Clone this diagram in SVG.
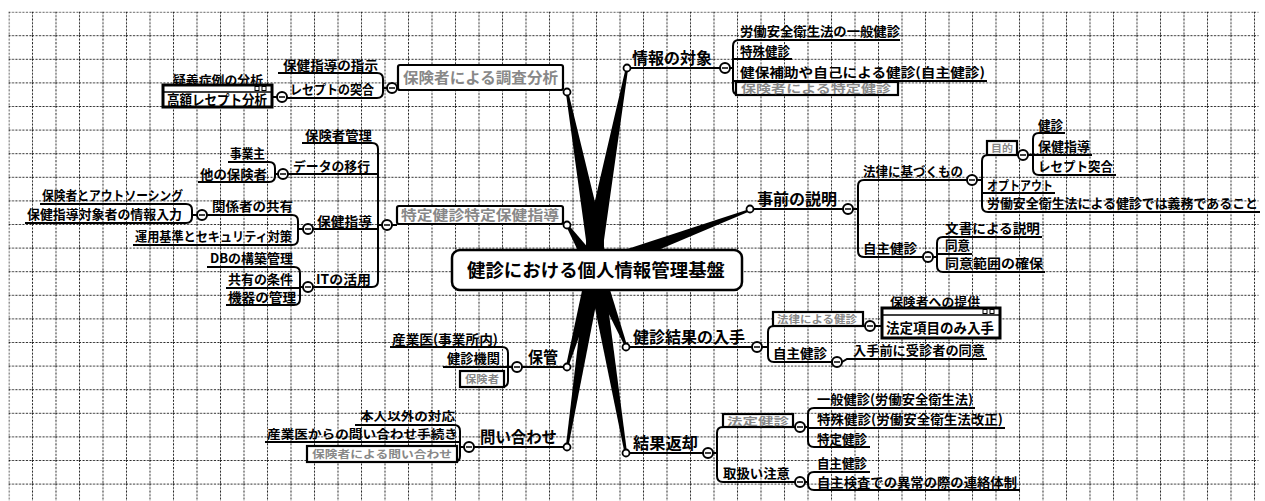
<svg xmlns="http://www.w3.org/2000/svg" width="1265" height="501" viewBox="0 0 1265 501">
<defs>
<pattern id="grid" patternUnits="userSpaceOnUse" x="8.5" y="11.6" width="23.5" height="23.6">
<line x1="0.5" y1="0" x2="0.5" y2="23.6" stroke="#222" stroke-width="1" stroke-dasharray="2 1.5"/>
<line x1="0" y1="0.5" x2="23.5" y2="0.5" stroke="#222" stroke-width="1" stroke-dasharray="2 1.5"/>
</pattern>
<style>
.t{font-family:"Noto Sans CJK JP","Noto Sans CJK SC",sans-serif;font-weight:bold;font-size:13px;fill:#000}
.m{font-size:16px}
.bt{font-family:"Noto Sans CJK JP",sans-serif;font-weight:bold;fill:#888}
.ul{stroke:#000;stroke-width:2;fill:none}
.cc{fill:#fff;stroke:#000;stroke-width:2}
.mn{stroke:#000;stroke-width:1.6}
.ep{fill:#fff;stroke:#000;stroke-width:1.8}
.bx{fill:#fff;stroke:#000;stroke-width:2.2}
.card{fill:#fff;stroke:#000;stroke-width:3}
.sp{fill:#000}
</style>
</defs>
<rect width="1265" height="501" fill="#fff"/>
<rect x="8.5" y="11.6" width="1250" height="490" fill="url(#grid)"/>

<g id="connectors">
<polygon class="sp" points="586,254 604,254 603.8,238.3 568.2,91.8 565.8,92.2 586.2,241.7"/>
<polygon class="sp" points="586,254 604,254 603.8,241.6 628.2,68.2 625.8,67.8 586.2,238.4"/>
<polygon class="sp" points="601.7,263.6 568,224.3 566,225.7 588.3,272.4"/>
<polygon class="sp" points="597.8,275.5 750.4,211.1 749.6,208.9 592.2,260.5"/>
<polygon class="sp" points="602.7,270.2 568.2,367.3 565.8,366.7 587.3,265.8"/>
<polygon class="sp" points="602.9,269.2 568.2,447.2 565.8,446.8 587.1,266.8"/>
<polygon class="sp" points="602.4,265 627.1,345.6 624.9,346.4 587.6,271"/>
<polygon class="sp" points="602.9,266.7 627.2,453.8 624.8,454.2 587.1,269.3"/>
<path class="ul" d="M278,73 H377 Q383,73 383,79 V92 Q383,98 377,98 H287 M383,88 H387 M397,88 H398 M272,97 H277"/>
<path class="ul" d="M627,68 H720 M730,68 H733 M900,40 H739 Q733,40 733,46 V89 Q733,95 739,95 M733,59 H792 M733,81 H987"/>
<path class="ul" d="M750,209 H843 M853,209 H858 M967,180 H864 Q858,180 858,186 V251 Q858,257 864,257 H923 M977,180 H982 M988,155 Q982,155 982,161 V206 Q982,212 988,212 H1260 M982,193 H1055 M1017,155 H1018 M1028,155 H1033 M1065,133 H1039 Q1033,133 1033,139 V169 Q1033,175 1039,175 H1116 M1033,155 H1092 M933,257 H937 M1042,237 H943 Q937,237 937,243 V266 Q937,272 943,272 H1045 M937,254 H972"/>
<path class="ul" d="M392,225 H397 M382,225 H378 M302,143 H372 Q378,143 378,149 V281 Q378,287 372,287 H313 M288,174 H378 M313,229 H378 M278,174 H275 M228,162 H269 Q275,162 275,168 V176 Q275,182 269,182 H198 M303,229 H298 M207,215 H292 Q298,215 298,221 V239 Q298,245 292,245 H133 M197,215 H192 M40,204 H186 Q192,204 192,210 V217 Q192,223 186,223 H25 M303,287 H300 M207,267 H294 Q300,267 300,273 V299 Q300,305 294,305 H226 M226,288 H300"/>
<path class="ul" d="M522,367 H567 M512,367 H508 M390,347 H502 Q508,347 508,353 V381 Q508,387 502,387 H460 M443,367 H508 M474,447 H567 M464,447 H460 M355,425 H454 Q460,425 460,431 V456 Q460,462 454,462 H307 M265,442 H460"/>
<path class="ul" d="M626,347 H752 M762,347 H768 M774,326 Q768,326 768,332 V356 Q768,362 774,362 H832 M842,362 L847,359 H987 M863,326 H865 M875,326 H882 M626,453 H703 M713,453 H717 M723,427 Q717,427 717,433 V476 Q717,482 723,482 H795 M793,427 H795 M805,427 H808 M975,408 H814 Q808,408 808,414 V441 Q808,447 814,447 H870 M808,428 H1005 M805,482 H808 M870,472 H814 Q808,472 808,478 V484 Q808,490 814,490 H1020"/>
<circle class="ep" cx="567" cy="92" r="3.5"/>
<circle class="ep" cx="627" cy="68" r="3.5"/>
<circle class="ep" cx="567" cy="225" r="3.5"/>
<circle class="ep" cx="750" cy="209" r="3.5"/>
<circle class="ep" cx="567" cy="367" r="3.5"/>
<circle class="ep" cx="567" cy="447" r="3.5"/>
<circle class="ep" cx="626" cy="347" r="3.5"/>
<circle class="ep" cx="626" cy="453" r="3.5"/>
</g>

<g id="collapse">
<g class="cc"><circle cx="392" cy="88" r="5"/><circle cx="282" cy="97" r="5"/><circle cx="725" cy="68" r="5"/><circle cx="848" cy="209" r="5"/><circle cx="972" cy="180" r="5"/><circle cx="1023" cy="155" r="5"/><circle cx="928" cy="257" r="5"/><circle cx="387" cy="225" r="5"/><circle cx="283" cy="174" r="5"/><circle cx="308" cy="229" r="5"/><circle cx="202" cy="215" r="5"/><circle cx="308" cy="287" r="5"/><circle cx="517" cy="367" r="5"/><circle cx="469" cy="447" r="5"/><circle cx="757" cy="347" r="5"/><circle cx="870" cy="326" r="5"/><circle cx="837" cy="362" r="5"/><circle cx="708" cy="453" r="5"/><circle cx="800" cy="427" r="5"/><circle cx="800" cy="482" r="5"/></g>
<path class="mn" d="M389,88h6 M279,97h6 M722,68h6 M845,209h6 M969,180h6 M1020,155h6 M925,257h6 M384,225h6 M280,174h6 M305,229h6 M199,215h6 M305,287h6 M514,367h6 M466,447h6 M754,347h6 M867,326h6 M834,362h6 M705,453h6 M797,427h6 M797,482h6"/>
</g>

<g id="center">
<rect x="452" y="250" width="290" height="40" rx="8" fill="#fff" stroke="#000" stroke-width="2.5"/>
<text class="t" x="467" y="277" textLength="258" lengthAdjust="spacingAndGlyphs" style="font-size:18px">健診における個人情報管理基盤</text>
</g>

<g id="n-chosa">
<rect class="bx" x="398" y="65" width="165" height="25" rx="2"/>
<text class="bt" x="403" y="83" font-size="15" textLength="155" lengthAdjust="spacingAndGlyphs" fill="#666">保険者による調査分析</text>
</g>
<g id="n-shiji"><text class="t" x="283" y="70" textLength="95" lengthAdjust="spacingAndGlyphs">保健指導の指示</text></g>
<g id="n-totsugo"><text class="t" x="290" y="94" textLength="84" lengthAdjust="spacingAndGlyphs">レセプトの突合</text></g>
<g id="n-kogaku">
<text class="t" x="173" y="85" textLength="90" lengthAdjust="spacingAndGlyphs" style="font-size:12px">疑義症例の分析</text>
<rect class="card" x="163" y="85" width="109" height="22"/>
<line x1="163" y1="92" x2="272" y2="92" stroke="#000" stroke-width="1.5"/>
<rect x="255" y="86.5" width="4" height="4" fill="none" stroke="#000" stroke-width="1"/>
<rect x="262" y="86.5" width="4" height="4" fill="none" stroke="#000" stroke-width="1"/>
<text class="t" x="167" y="105" textLength="100" lengthAdjust="spacingAndGlyphs" style="font-size:14px">高額レセプト分析</text>
</g>

<g id="n-taisho"><text class="t m" x="632" y="64" textLength="80" lengthAdjust="spacingAndGlyphs">情報の対象</text></g>
<g id="n-ippan"><text class="t" x="740" y="36" textLength="160" lengthAdjust="spacingAndGlyphs">労働安全衛生法の一般健診</text></g>
<g id="n-tokushu"><text class="t" x="740" y="56" textLength="50" lengthAdjust="spacingAndGlyphs">特殊健診</text></g>
<g id="n-kenpo"><text class="t" x="740" y="77" textLength="245" lengthAdjust="spacingAndGlyphs">健保補助や自己による健診(自主健診)</text></g>
<g id="n-tokutei1">
<rect class="bx" x="736" y="82" width="162" height="13"/>
<text class="bt" x="741" y="93" font-size="11" textLength="150" lengthAdjust="spacingAndGlyphs">保険者による特定健診</text>
</g>

<g id="n-jizen"><text class="t m" x="757" y="205" textLength="80" lengthAdjust="spacingAndGlyphs">事前の説明</text></g>
<g id="n-horitsu"><text class="t" x="863" y="176" textLength="100" lengthAdjust="spacingAndGlyphs">法律に基づくもの</text></g>
<g id="n-mokuteki">
<rect class="bx" x="987" y="141" width="30" height="14"/>
<text class="bt" x="991" y="152" font-size="10" textLength="22" lengthAdjust="spacingAndGlyphs">目的</text>
</g>
<g id="n-kenshin"><text class="t" x="1038" y="130" textLength="25" lengthAdjust="spacingAndGlyphs">健診</text></g>
<g id="n-hoken"><text class="t" x="1038" y="151" textLength="52" lengthAdjust="spacingAndGlyphs">保健指導</text></g>
<g id="n-rece"><text class="t" x="1038" y="171" textLength="75" lengthAdjust="spacingAndGlyphs">レセプト突合</text></g>
<g id="n-opt"><text class="t" x="987" y="190" textLength="66" lengthAdjust="spacingAndGlyphs">オプトアウト</text></g>
<g id="n-gimu"><text class="t" x="987" y="208" textLength="271" lengthAdjust="spacingAndGlyphs">労働安全衛生法による健診では義務であること</text></g>
<g id="n-jishu1"><text class="t" x="863" y="253" textLength="54" lengthAdjust="spacingAndGlyphs">自主健診</text></g>
<g id="n-bunsho"><text class="t" x="945" y="233" textLength="95" lengthAdjust="spacingAndGlyphs">文書による説明</text></g>
<g id="n-doi"><text class="t" x="945" y="250" textLength="25" lengthAdjust="spacingAndGlyphs">同意</text></g>
<g id="n-hanni"><text class="t" x="945" y="268" textLength="98" lengthAdjust="spacingAndGlyphs">同意範囲の確保</text></g>

<g id="n-tokutei">
<rect class="bx" x="397" y="206" width="166" height="18" rx="2"/>
<text class="bt" x="401" y="220" font-size="14" textLength="158" lengthAdjust="spacingAndGlyphs" fill="#555">特定健診特定保健指導</text>
</g>
<g id="n-kanri"><text class="t" x="305" y="140" textLength="67" lengthAdjust="spacingAndGlyphs">保険者管理</text></g>
<g id="n-iko"><text class="t" x="293" y="171" textLength="77" lengthAdjust="spacingAndGlyphs">データの移行</text></g>
<g id="n-jigyo"><text class="t" x="230" y="158" textLength="35" lengthAdjust="spacingAndGlyphs">事業主</text></g>
<g id="n-hoka"><text class="t" x="200" y="179" textLength="67" lengthAdjust="spacingAndGlyphs">他の保険者</text></g>
<g id="n-shido"><text class="t" x="317" y="226" textLength="55" lengthAdjust="spacingAndGlyphs">保健指導</text></g>
<g id="n-kyoyu"><text class="t" x="212" y="211" textLength="81" lengthAdjust="spacingAndGlyphs">関係者の共有</text></g>
<g id="n-out"><text class="t" x="42" y="200" textLength="141" lengthAdjust="spacingAndGlyphs">保険者とアウトソーシング</text></g>
<g id="n-nyuryoku"><text class="t" x="27" y="219" textLength="155" lengthAdjust="spacingAndGlyphs">保健指導対象者の情報入力</text></g>
<g id="n-unyo"><text class="t" x="135" y="241" textLength="157" lengthAdjust="spacingAndGlyphs">運用基準とセキュリティ対策</text></g>
<g id="n-it"><text class="t" x="316" y="284" textLength="55" lengthAdjust="spacingAndGlyphs">ITの活用</text></g>
<g id="n-db"><text class="t" x="210" y="263" textLength="83" lengthAdjust="spacingAndGlyphs">DBの構築管理</text></g>
<g id="n-joken"><text class="t" x="228" y="284" textLength="65" lengthAdjust="spacingAndGlyphs">共有の条件</text></g>
<g id="n-kiki"><text class="t" x="228" y="302" textLength="68" lengthAdjust="spacingAndGlyphs">機器の管理</text></g>

<g id="n-hokan"><text class="t m" x="528" y="363" textLength="30" lengthAdjust="spacingAndGlyphs">保管</text></g>
<g id="n-sangyoi"><text class="t" x="392" y="344" textLength="106" lengthAdjust="spacingAndGlyphs">産業医(事業所内)</text></g>
<g id="n-kikan"><text class="t" x="447" y="363" textLength="53" lengthAdjust="spacingAndGlyphs">健診機関</text></g>
<g id="n-hokensha">
<rect class="bx" x="460" y="371" width="44" height="16"/>
<text class="bt" x="465" y="383" font-size="10" textLength="34" lengthAdjust="spacingAndGlyphs">保険者</text>
</g>
<g id="n-toiawase"><text class="t m" x="480" y="443" textLength="77" lengthAdjust="spacingAndGlyphs">問い合わせ</text></g>
<g id="n-honnin"><text class="t" x="360" y="421" textLength="95" lengthAdjust="spacingAndGlyphs" style="font-size:12px">本人以外の対応</text></g>
<g id="n-tetsuzuki"><text class="t" x="267" y="439" textLength="191" lengthAdjust="spacingAndGlyphs" style="font-size:12px">産業医からの問い合わせ手続き</text></g>
<g id="n-hoken-toi">
<rect class="bx" x="307" y="446" width="150" height="16"/>
<text class="bt" x="312" y="458" font-size="10.5" textLength="140" lengthAdjust="spacingAndGlyphs">保険者による問い合わせ</text>
</g>

<g id="n-nyushu"><text class="t m" x="633" y="343" textLength="112" lengthAdjust="spacingAndGlyphs">健診結果の入手</text></g>
<g id="n-horitsu2">
<rect class="bx" x="773" y="312" width="90" height="14"/>
<text class="bt" x="777" y="323" font-size="10" textLength="80" lengthAdjust="spacingAndGlyphs">法律による健診</text>
</g>
<g id="n-hotei">
<text class="t" x="890" y="307" textLength="90" lengthAdjust="spacingAndGlyphs" style="font-size:12px">保険者への提供</text>
<rect class="card" x="882" y="308" width="118" height="30"/>
<line x1="882" y1="315" x2="1000" y2="315" stroke="#000" stroke-width="1.5"/>
<rect x="983" y="309.5" width="4" height="4" fill="none" stroke="#000" stroke-width="1"/>
<rect x="990" y="309.5" width="4" height="4" fill="none" stroke="#000" stroke-width="1"/>
<text class="t" x="886" y="333" textLength="108" lengthAdjust="spacingAndGlyphs" style="font-size:14px">法定項目のみ入手</text>
</g>
<g id="n-jishu2"><text class="t" x="773" y="358" textLength="54" lengthAdjust="spacingAndGlyphs">自主健診</text></g>
<g id="n-maedoi"><text class="t" x="853" y="355" textLength="132" lengthAdjust="spacingAndGlyphs">入手前に受診者の同意</text></g>

<g id="n-henkyaku"><text class="t m" x="633" y="449" textLength="65" lengthAdjust="spacingAndGlyphs">結果返却</text></g>
<g id="n-hoteikenshin">
<rect class="bx" x="723" y="414" width="70" height="13"/>
<text class="bt" x="727" y="425" font-size="10" textLength="62" lengthAdjust="spacingAndGlyphs">法定健診</text>
</g>
<g id="n-ippan2"><text class="t" x="817" y="404" textLength="156" lengthAdjust="spacingAndGlyphs">一般健診(労働安全衛生法)</text></g>
<g id="n-tokushu2"><text class="t" x="817" y="424" textLength="186" lengthAdjust="spacingAndGlyphs">特殊健診(労働安全衛生法改正)</text></g>
<g id="n-tokutei2"><text class="t" x="817" y="444" textLength="50" lengthAdjust="spacingAndGlyphs">特定健診</text></g>
<g id="n-chui"><text class="t" x="723" y="478" textLength="67" lengthAdjust="spacingAndGlyphs">取扱い注意</text></g>
<g id="n-jishu3"><text class="t" x="817" y="468" textLength="50" lengthAdjust="spacingAndGlyphs">自主健診</text></g>
<g id="n-renraku"><text class="t" x="817" y="487" textLength="200" lengthAdjust="spacingAndGlyphs">自主検査での異常の際の連絡体制</text></g>
</svg>
